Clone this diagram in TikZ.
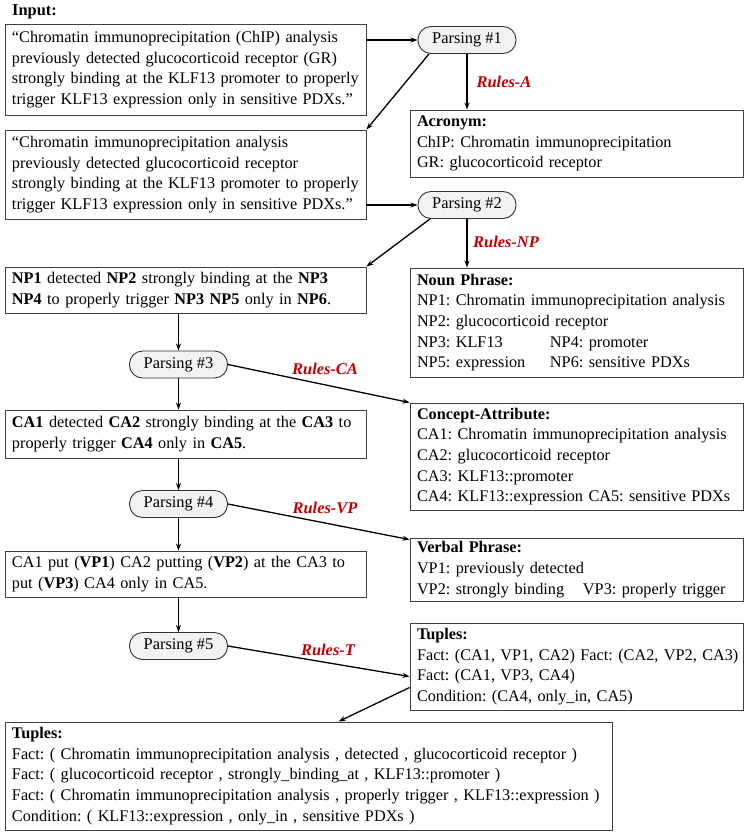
\documentclass[tikz,border=0pt]{standalone}
\usepackage{fontspec}
\setmainfont{Liberation Serif}
\usetikzlibrary{arrows.meta,calc}
\definecolor{rulered}{RGB}{192,0,0}
\newcommand\Lx[1]{\mbox{#1}}
\frenchspacing
\begin{document}
\begin{tikzpicture}[x=1pt,y=-1pt,
  box/.style={draw=black!75, line width=0.9pt, rectangle, align=left, inner xsep=7pt, inner ysep=0pt,
    font=\fontsize{16.25}{20.7}\selectfont},
  lbox/.style={box, text width=347pt},
  rbox/.style={box, text width=319pt},
  parse/.style={draw=black!80, line width=0.9pt, fill=gray!10, rounded corners=13pt,
    minimum width=98pt, minimum height=27pt, inner sep=0pt, font=\fontsize{16.4}{20}\selectfont},
  arr/.style={-{Stealth[length=7pt,width=5pt]}, line width=1.3pt},
  rules/.style={text=rulered, font=\fontsize{16.4}{20}\selectfont\bfseries\itshape, inner sep=0pt}]
\useasboundingbox (0,0) rectangle (747,835);

\node[anchor=west, font=\fontsize{16.4}{20}\selectfont\bfseries, inner sep=0pt] (input) at (12,12) {Input:};

\node[lbox, minimum height=91pt] (B1) at (185.5,69.5) {\Lx{“Chromatin immunoprecipitation (ChIP) analysis}\\\Lx{previously detected glucocorticoid receptor (GR)}\\\Lx{strongly binding at the KLF13 promoter to properly}\\\Lx{trigger KLF13 expression only in sensitive PDXs.”}};

\node[parse] (P1) at (467,40) {Parsing \#1};

\node[rbox, minimum height=67pt] (Acr) at (576.5,143.5) {\textbf{Acronym:}\\\Lx{ChIP: Chromatin immunoprecipitation}\\\Lx{GR: glucocorticoid receptor}};

\node[lbox, minimum height=89pt] (B2) at (185.5,174.5) {\Lx{“Chromatin immunoprecipitation analysis}\\\Lx{previously detected glucocorticoid receptor}\\\Lx{strongly binding at the KLF13 promoter to properly}\\\Lx{trigger KLF13 expression only in sensitive PDXs.”}};

\node[parse] (P2) at (467,205) {Parsing \#2};

\node[rbox, minimum height=109pt] (NP) at (576.5,322.5) {\textbf{Noun Phrase:}\\\Lx{NP1: Chromatin immunoprecipitation analysis}\\\Lx{NP2: glucocorticoid receptor}\\\Lx{\makebox[133pt][l]{NP3: KLF13}NP4: promoter}\\\Lx{\makebox[133pt][l]{NP5: expression}NP6: sensitive PDXs}};

\node[lbox, minimum height=46pt] (NPs) at (185.5,290) {\Lx{\textbf{NP1} detected \textbf{NP2} strongly binding at the \textbf{NP3}}\\\Lx{\textbf{NP4} to properly trigger \textbf{NP3 NP5} only in \textbf{NP6}.}};

\node[parse] (P3) at (178.5,364.5) {Parsing \#3};

\node[lbox, minimum height=48pt] (CAs) at (185.5,434) {\Lx{\textbf{CA1} detected \textbf{CA2} strongly binding at the \textbf{CA3} to}\\\Lx{properly trigger \textbf{CA4} only in \textbf{CA5}.}};

\node[rbox, minimum height=107pt] (CA) at (576.5,456.5) {\textbf{Concept-Attribute:}\\\Lx{CA1: Chromatin immunoprecipitation analysis}\\\Lx{CA2: glucocorticoid receptor}\\\Lx{CA3: KLF13::promoter}\\\Lx{CA4: KLF13::expression CA5: sensitive PDXs}};

\node[parse] (P4) at (178.5,504) {Parsing \#4};

\node[rbox, minimum height=63pt] (VP) at (576.5,569.5) {\textbf{Verbal Phrase:}\\\Lx{VP1: previously detected}\\\Lx{\makebox[166pt][l]{VP2: strongly binding}VP3: properly trigger}};

\node[lbox, minimum height=46pt] (VPs) at (185.5,574) {\Lx{CA1 put (\textbf{VP1}) CA2 putting (\textbf{VP2}) at the CA3 to}\\\Lx{put (\textbf{VP3}) CA4 only in CA5.}};

\node[parse] (P5) at (178.5,646) {Parsing \#5};

\node[rbox, minimum height=87pt] (T) at (576.5,666.5) {\textbf{Tuples:}\\\Lx{Fact: (CA1, VP1, CA2) Fact: (CA2, VP2, CA3)}\\\Lx{Fact: (CA1, VP3, CA4)}\\\Lx{Condition: (CA4, only\_in, CA5)}};

\node[box, text width=593pt, minimum height=108pt] (BT) at (308.5,776) {\textbf{Tuples:}\\\Lx{Fact: ( Chromatin immunoprecipitation analysis , detected , glucocorticoid receptor )}\\\Lx{Fact: ( glucocorticoid receptor , strongly\_binding\_at , KLF13::promoter )}\\\Lx{Fact: ( Chromatin immunoprecipitation analysis , properly trigger , KLF13::expression )}\\\Lx{Condition: ( KLF13::expression , only\_in , sensitive PDXs )}};

% rule labels
\node[rules] (rA) at (504,82) {Rules-A};
\node[rules] (rNP) at (506,242) {Rules-NP};
\node[rules] (rCA) at (325,369) {Rules-CA};
\node[rules] (rVP) at (325,508) {Rules-VP};
\node[rules] (rT) at (328,650) {Rules-T};

% connectors
\draw[arr] (B1.east |- P1.west) -- (P1.west);
\draw[arr] (P1.south) -- (P1.south |- Acr.north);
\draw[arr] ($(P1.south)+(-38,0)$) -- (B2.north east);
\draw[arr] (B2.east |- P2.west) -- (P2.west);
\draw[arr] (P2.south) -- (P2.south |- NP.north);
\draw[arr] ($(P2.south)+(-37,0)$) -- (NPs.north east);
\draw[arr] (P3.north |- NPs.south) -- (P3.north);
\draw[arr] (P3.east) -- (CA.north west);
\draw[arr] (P3.south) -- (P3.south |- CAs.north);
\draw[arr] (P4.north |- CAs.south) -- (P4.north);
\draw[arr] (P4.east) -- ($(VP.north west)+(0,2)$);
\draw[arr] (P4.south) -- (P4.south |- VPs.north);
\draw[arr] (P5.north |- VPs.south) -- (P5.north);
\draw[arr] (P5.east) -- ($(T.west)+(0,10)$);
\draw[arr] ($(T.west)+(0,21)$) -- ($(BT.north)+(30,0)$);
\end{tikzpicture}
\end{document}
